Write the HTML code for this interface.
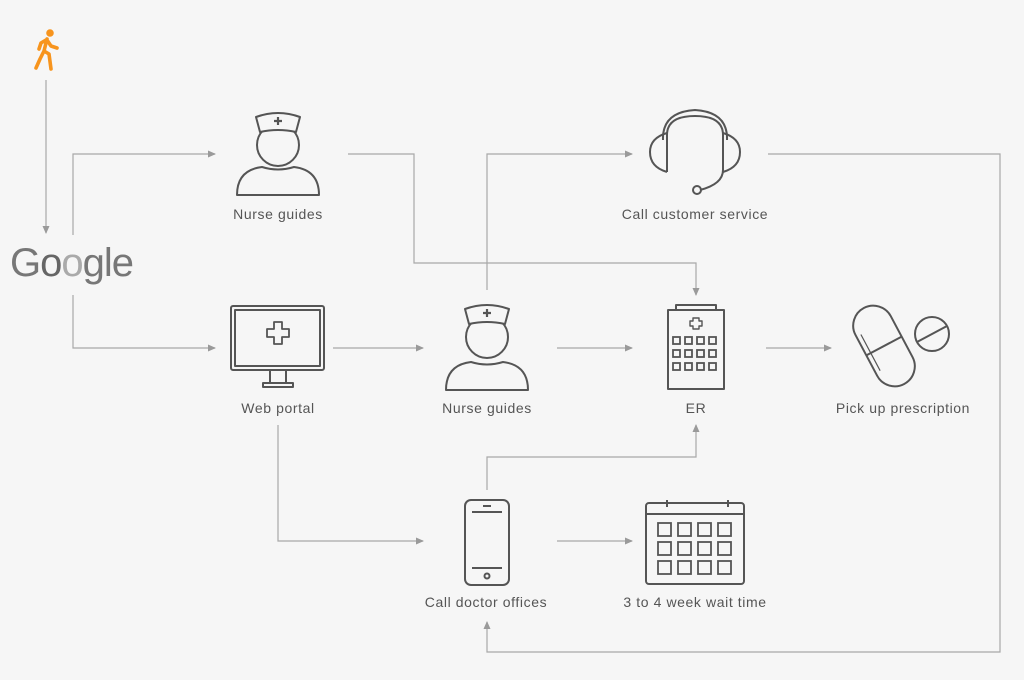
<!DOCTYPE html>
<html><head><meta charset="utf-8"><style>
html,body{margin:0;padding:0;background:#f6f6f6;}
svg{display:block}
text{font-family:"Liberation Sans",sans-serif;font-size:14px;fill:#555;letter-spacing:0.6px}
</style></head><body>
<svg width="1024" height="680" viewBox="0 0 1024 680" xmlns="http://www.w3.org/2000/svg">
<rect width="1024" height="680" fill="#f6f6f6"/>
<defs>
<marker id="a" markerWidth="8" markerHeight="8" refX="7" refY="4" orient="auto" markerUnits="userSpaceOnUse">
<path d="M0,0.5 L8,4 L0,7.5 Z" fill="#9a9a9a"/></marker>
</defs>
<g fill="none" stroke="#a8a8a8" stroke-width="1.2" marker-end="url(#a)">
<path d="M46,80 V233"/>
<path d="M73,235 V154 H215"/>
<path d="M73,295 V348 H215"/>
<path d="M348,154 H414 V263 H696 V295"/>
<path d="M768,154 H1000 V652 H487 V622"/>
<path d="M487,290 V154 H632"/>
<path d="M333,348 H423"/>
<path d="M557,348 H632"/>
<path d="M766,348 H831"/>
<path d="M278,425 V541 H423"/>
<path d="M487,490 V457 H696 V425"/>
<path d="M557,541 H632"/>
</g>
<!-- walker -->
<g fill="#f7941d" stroke="#f7941d" stroke-linecap="round" stroke-linejoin="round">
<circle cx="50" cy="33" r="3.8" stroke="none"/>
<path d="M47,39 L44,51 L40,59 L36,68 M44,51 L49,54 L51,69 M47,40 L51,46 L57,48 M46,40 L41,43 L39,49" fill="none" stroke-width="3.6"/>
</g>
<!-- Google -->
<text x="10" y="276" style="font-size:40px;letter-spacing:-1px;fill:#777">G<tspan fill="#666">o</tspan><tspan fill="#aaa">o</tspan><tspan fill="#777">gle</tspan></text>
<g fill="none" stroke="#555" stroke-width="2" stroke-linejoin="round">
<!-- nurse 1 -->
<circle cx="278" cy="145" r="21"/>
<path d="M237,195 Q237,170 262,167 Q278,172 294,167 Q319,170 319,195 Z"/>
<path d="M256,117 Q278,109 300,117 L296,132 Q278,128 260,132 Z" fill="#f6f6f6"/>
<!-- nurse 2 -->
<circle cx="487" cy="337" r="21"/>
<path d="M446,390 Q446,365 471,362 Q487,367 503,362 Q528,365 528,390 Z"/>
<path d="M465,309 Q487,301 509,309 L505,324 Q487,320 469,324 Z" fill="#f6f6f6"/>
<!-- headset -->
<path d="M667,172 V135 Q667,116 695,116 Q723,116 723,135 V170 Q723,184 700,190"/>
<path d="M667,133 Q650,138 650,152 Q650,167 667,172"/>
<path d="M723,133 Q740,138 740,152 Q740,167 723,172"/>
<path d="M663,140 Q662,112 695,110 Q728,112 727,140"/>
<circle cx="697" cy="190" r="4"/>
<!-- monitor -->
<rect x="231" y="306" width="93" height="64" rx="2"/>
<rect x="235" y="310" width="85" height="56"/>
<path d="M270,370 V383 H286 V370 M263,387 H293 V383 H263 Z"/>
<path d="M274,322 h8 v7 h7 v8 h-7 v7 h-8 v-7 h-7 v-8 h7 Z" stroke-width="1.8"/>
<!-- ER -->
<rect x="668" y="310" width="56" height="79"/>
<rect x="676" y="305" width="40" height="5"/>
<path d="M693,318 h6 v3 h3 v5 h-3 v3 h-6 v-3 h-3 v-5 h3 Z" stroke-width="1.4"/>
<!-- pill -->
<g transform="rotate(-28 884 346)">
<rect x="864" y="303" width="40" height="86" rx="20"/>
<path d="M864,346 H904"/>
<path d="M869,325 V366" stroke-width="1.2"/>
</g>
<circle cx="932" cy="334" r="17"/>
<path d="M917,342 L947,326"/>
<!-- phone -->
<rect x="465" y="500" width="44" height="85" rx="6"/>
<path d="M472,512 H502 M472,568 H502 M483,506 H491"/>
<circle cx="487" cy="576" r="2.5"/>
<!-- calendar -->
<rect x="646" y="503" width="98" height="81" rx="3"/>
<path d="M646,514 H744 M667,500 V507 M728,500 V507"/>
</g>
<g fill="none" stroke="#555" stroke-width="1.8">
<g id="w"><rect x="673" y="337" width="7" height="7"/><rect x="685" y="337" width="7" height="7"/><rect x="697" y="337" width="7" height="7"/><rect x="709" y="337" width="7" height="7"/></g>
<use href="#w" y="13"/><use href="#w" y="26"/>
<g id="c"><rect x="658" y="523" width="13" height="13"/><rect x="678" y="523" width="13" height="13"/><rect x="698" y="523" width="13" height="13"/><rect x="718" y="523" width="13" height="13"/></g>
<use href="#c" y="19"/><use href="#c" y="38"/>
</g>
<path d="M274,121 h8 M278,117 v8" stroke="#555" stroke-width="2.2"/>
<path d="M483,313 h8 M487,309 v8" stroke="#555" stroke-width="2.2"/>
<g text-anchor="middle">
<text x="278" y="219">Nurse guides</text>
<text x="695" y="219">Call customer service</text>
<text x="278" y="413">Web portal</text>
<text x="487" y="413">Nurse guides</text>
<text x="696" y="413">ER</text>
<text x="903" y="413">Pick up prescription</text>
<text x="486" y="607">Call doctor offices</text>
<text x="695" y="607">3 to 4 week wait time</text>
</g>
</svg>
</body></html>
